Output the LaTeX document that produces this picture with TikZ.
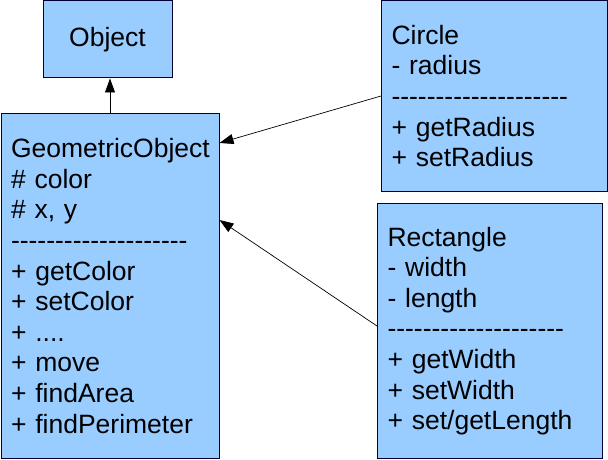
\documentclass[tikz,border=0pt]{standalone}
\usepackage{fontspec}
\setmainfont{Liberation Sans}
\usetikzlibrary{arrows.meta}
\definecolor{boxfill}{RGB}{153,204,255}
\definecolor{boxline}{RGB}{0,0,51}
\newcommand{\sepline}{\foreach \k in {1,...,20}{-\kern0pt}}

\begin{document}
\begin{tikzpicture}[x=1pt,y=-1pt,
    umlbox/.style={draw=boxline,fill=boxfill,line width=1pt,anchor=north west,
      inner xsep=10pt,inner ysep=0pt,align=left,
      font=\fontsize{26.5}{30.6}\selectfont},
    inherit/.style={-{Triangle[length=14pt,width=10pt]},line width=0.7pt}]
  \useasboundingbox (0,0) rectangle (608,460);

  \node[umlbox,align=center,minimum width=129pt,minimum height=77pt] (obj) at (42.5,0.5) {Object};

  \node[umlbox,minimum width=218pt,minimum height=345pt,text width=198pt] (geo) at (0.5,113)
    {GeometricObject\\\# color\\\# x, y\\\sepline\\+ getColor\\+ setColor\\+ ....\\+ move\\+ findArea\\+ findPerimeter};

  \node[umlbox,minimum width=226pt,minimum height=190pt,text width=206pt] (circ) at (381,0.5)
    {Circle\\- radius\\\sepline\\+ getRadius\\+ setRadius};

  \node[umlbox,minimum width=225pt,minimum height=255pt,text width=205pt] (rect) at (377,203)
    {Rectangle\\- width\\- length\\\sepline\\+ getWidth\\+ setWidth\\+ set/getLength};

  % generalisation arrows
  \draw[inherit] (geo.north) -- (geo.north |- obj.south);
  \draw[inherit] (circ.west) -- ([yshift=-30pt]geo.north east);
  \draw[inherit] ([yshift=5pt]rect.west) -- ([yshift=-107pt]geo.north east);
\end{tikzpicture}
\end{document}
